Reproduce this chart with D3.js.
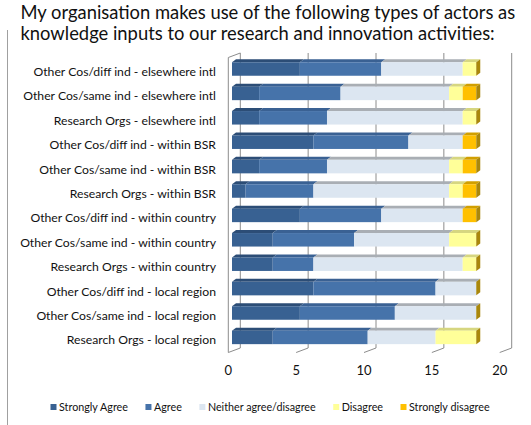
<!DOCTYPE html>
<html>
<head>
<meta charset="utf-8">
<script src="https://cdn.jsdelivr.net/npm/d3@7"></script>
<style>
  body { margin: 0; background: #fff; }
  svg text { font-family: Lato, "Open Sans", sans-serif; fill: #111; }
</style>
</head>
<body>
<div id="chart"></div>
<script>
// categories, top to bottom
var categories = [
  "Other Cos/diff ind - elsewhere intl",
  "Other Cos/same ind - elsewhere intl",
  "Research Orgs - elsewhere intl",
  "Other Cos/diff ind - within BSR",
  "Other Cos/same ind - within BSR",
  "Research Orgs - within BSR",
  "Other Cos/diff ind - within country",
  "Other Cos/same ind - within country",
  "Research Orgs - within country",
  "Other Cos/diff ind - local region",
  "Other Cos/same ind - local region",
  "Research Orgs - local region"
];
var stronglyAgree    = [5, 2, 2, 6, 2, 1, 5, 3, 3, 6, 5, 3];
var agree            = [6, 6, 5, 7, 5, 5, 6, 6, 3, 9, 7, 7];
var neither          = [6, 8, 10, 4, 9, 10, 6, 7, 11, 3, 6, 5];
var disagree         = [1, 1, 1, 0, 1, 1, 0, 2, 1, 0, 0, 3];
var stronglyDisagree = [0, 1, 0, 1, 1, 1, 1, 0, 0, 0, 0, 0];

var seriesNames = ["Strongly Agree", "Agree", "Neither agree/disagree", "Disagree", "Strongly disagree"];
var xTicks = [0, 5, 10, 15, 20];
var titleLines = [
  "My organisation makes use of the following types of actors as",
  "knowledge inputs to our research and innovation activities:"
];

var width = 531, height = 425;

// front / top face colours per series
var frontColor = ["#386192", "#4673aa", "#dce6f1", "#ffff99", "#ffc000"];
var topColor   = ["#2c4d76", "#3a6193", "#a9aeb4", "#d6d680", "#d19f00"];
var sideColor  = "#a9870c";
var gridColor  = "#8c8c8c";

var svg = d3.select("#chart").append("svg")
  .attr("width", width)
  .attr("height", height);

// build table for the stack
var table = categories.map(function(c, i) {
  return {
    cat: c,
    "Strongly Agree": stronglyAgree[i],
    "Agree": agree[i],
    "Neither agree/disagree": neither[i],
    "Disagree": disagree[i],
    "Strongly disagree": stronglyDisagree[i]
  };
});
var stacked = d3.stack().keys(seriesNames)(table);

// scales: x is the front edge of the floor
var x = d3.scaleLinear().domain([0, 20]).range([228.3, 499.7]);
var y = d3.scalePoint().domain(categories).range([56.8, 349.6]).padding(0.5);

var DX = 12, DY = 4.5;          // depth of the 3d box
var inset = 3.7;                // bars sit a bit behind the front edge
var bdx = 4, bdy = 3;           // bar depth
var barH = 13.5;
var wallTop = 53, floorBack = 348, floorFront = 352.5;

// left outer border
svg.append("line")
  .attr("x1", 7.5).attr("x2", 7.5)
  .attr("y1", 30).attr("y2", height)
  .attr("stroke", "#a0a0a0").attr("stroke-width", 1);

// title
var title = svg.append("g").selectAll("text")
  .data(titleLines)
  .join("text")
  .attr("x", 20.5)
  .attr("y", function(d, i) { return 19 + i * 20.5; })
  .style("font-size", "17px")
  .text(function(d) { return d; });
var tw = title.nodes()[0].getComputedTextLength();
title.style("font-size", (17 * 495 / tw) + "px");

// grid on back wall + floor diagonals
var grid = svg.append("g").attr("stroke", gridColor).attr("stroke-width", 1).attr("fill", "none");
xTicks.forEach(function(t) {
  grid.append("path")
    .attr("d", "M" + (x(t) + DX) + "," + wallTop + "V" + floorBack + "L" + x(t) + "," + floorFront);
});
// left wall front edge
grid.append("path")
  .attr("d", "M" + (x(0) + DX) + "," + wallTop + "L" + x(0) + "," + (wallTop + DY) + "V" + floorFront);

// x tick labels
svg.append("g").selectAll("text")
  .data(xTicks)
  .join("text")
  .attr("x", function(d) { return x(d); })
  .attr("y", 375)
  .attr("text-anchor", "middle")
  .style("font-size", "13px")
  .text(function(d) { return d; });

// category labels
var labels = svg.append("g").selectAll("text")
  .data(categories)
  .join("text")
  .attr("x", 216)
  .attr("y", function(d) { return y(d) + 2.7; })
  .attr("dy", "0.35em")
  .attr("text-anchor", "end")
  .style("font-size", "11px")
  .text(function(d) { return d; });
var lw = d3.max(labels.nodes(), function(n) { return n.getComputedTextLength(); });
labels.style("font-size", (11 * 196 / lw) + "px");

// bars
var bars = svg.append("g");
stacked.forEach(function(s, k) {
  var g = bars.append("g");
  var segs = s.filter(function(d) { return d[1] > d[0]; });
  // top faces
  g.selectAll("path.top")
    .data(segs)
    .join("path")
    .attr("class", "top")
    .attr("fill", topColor[k])
    .attr("d", function(d) {
      var x0 = x(d[0]) + inset, x1 = x(d[1]) + inset, yt = y(d.data.cat) - barH / 2;
      return "M" + x0 + "," + yt + "L" + x1 + "," + yt + "L" + (x1 + bdx) + "," + (yt - bdy) +
        "L" + (x0 + bdx) + "," + (yt - bdy) + "Z";
    });
  // front faces
  g.selectAll("rect")
    .data(segs)
    .join("rect")
    .attr("fill", frontColor[k])
    .attr("x", function(d) { return x(d[0]) + inset; })
    .attr("y", function(d) { return y(d.data.cat) - barH / 2; })
    .attr("width", function(d) { return x(d[1]) - x(d[0]); })
    .attr("height", barH);
});

// end side face of each bar
var last = stacked[stacked.length - 1];
bars.append("g").selectAll("path")
  .data(last)
  .join("path")
  .attr("fill", sideColor)
  .attr("d", function(d) {
    var x1 = x(d[1]) + inset, yt = y(d.data.cat) - barH / 2;
    return "M" + x1 + "," + yt + "L" + (x1 + bdx) + "," + (yt - bdy) + "V" + (yt - bdy + barH) +
      "L" + x1 + "," + (yt + barH) + "Z";
  });

// legend
var legend = svg.append("g").attr("transform", "translate(0,407)");
var items = legend.selectAll("g")
  .data(seriesNames)
  .join("g");
items.append("rect")
  .attr("width", 6).attr("height", 6)
  .attr("y", -3)
  .attr("fill", function(d, i) { return frontColor[i]; });
var ltext = items.append("text")
  .attr("x", 8.5)
  .attr("dy", "0.35em")
  .style("font-size", "10px")
  .text(function(d) { return d; });
var sw = ltext.nodes()[0].getComputedTextLength();
ltext.style("font-size", (10 * 69 / sw) + "px");
var lx = 50.5;
items.each(function() {
  d3.select(this).attr("transform", "translate(" + lx + ",0)");
  lx += 8.5 + d3.select(this).select("text").node().getComputedTextLength() + 17.5;
});
</script>
</body>
</html>
